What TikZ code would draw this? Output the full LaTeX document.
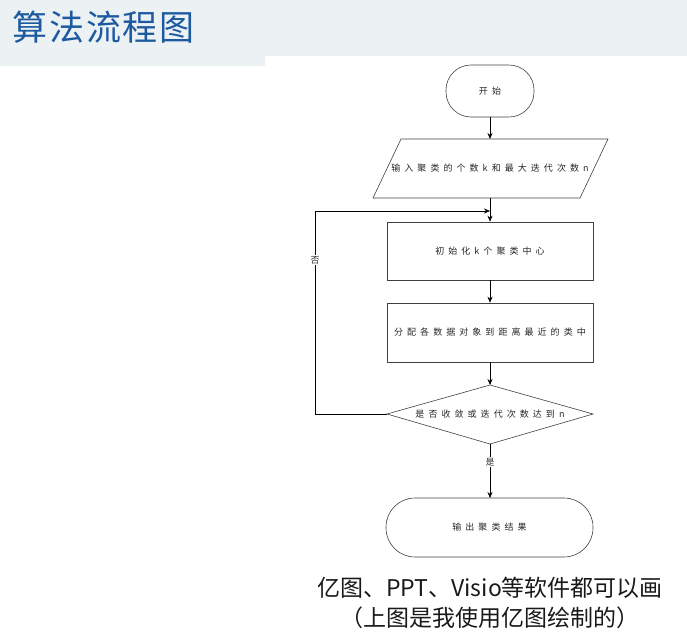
\documentclass[tikz,border=0pt]{standalone}
\usepackage{fontspec}
\setmainfont{Noto Sans CJK SC}
\newfontfamily\cjk{Noto Sans CJK SC}
\usetikzlibrary{shapes.geometric,arrows.meta,positioning}
\definecolor{barbg}{HTML}{ECF2F3}
\definecolor{titleblue}{HTML}{1E5AA0}
\definecolor{flowline}{HTML}{404040}
\tikzset{
  fc/.style={draw=flowline, line width=0.6pt, text=black!85, font=\fontsize{9}{10}\selectfont\addfontfeature{LetterSpace=45}},
  procbox/.style={fc},
  arr/.style={-{Stealth[length=6pt,width=5pt]}, line width=0.6pt, draw=black},
  lbl/.style={font=\fontsize{9}{10}\selectfont, text=black!80, fill=white, inner sep=1pt}
}
\begin{document}
\begin{tikzpicture}[x=1pt,y=-1pt]
\useasboundingbox (0,0) rectangle (687,640);
% title bar
\fill[barbg] (0,0) rectangle (687,56);
\fill[barbg] (0,56) rectangle (265,66);
\node[anchor=west, text=titleblue, font=\fontsize{35}{37}\selectfont\addfontfeature{LetterSpace=5}] (title) at (9,27) {算法流程图};

% flowchart
\draw[fc, rounded corners=25pt] (446,65) rectangle (534,117);
\node[fc, draw=none] (startt) at (490,91) {开始};
\coordinate (startb) at (490,117);

\draw[fc] (401,139) -- (608,139) -- (580,198) -- (373,198) -- cycle;
\node[fc, draw=none] (input) at (490,168.5) {输入聚类的个数k和最大迭代次数n};
\coordinate (inputt) at (490,139);
\coordinate (inputb) at (490,198);

\node[procbox, minimum width=206pt, minimum height=58pt] (init) at (490,251) {初始化k个聚类中心};
\node[procbox, minimum width=206pt, minimum height=59pt] (assign) at (490,332.5) {分配各数据对象到距离最近的类中};

\draw[fc] (490,385) -- (593,414) -- (490,444) -- (387,414) -- cycle;
\node[fc, draw=none] (cond) at (490,414) {是否收敛或迭代次数达到n};
\coordinate (condt) at (490,385);
\coordinate (condb) at (490,444);
\coordinate (condl) at (387,414);

\draw[fc, rounded corners=29pt] (386,498) rectangle (593,557);
\node[fc, draw=none] (output) at (489.5,527.5) {输出聚类结果};
\coordinate (outt) at (490,498);

\coordinate (loopbl) at (315,414);
\coordinate (looptl) at (315,211);
\coordinate (loopend) at (490,211);

% connectors
\draw[arr] (startb) -- (inputt);
\draw[arr] (inputb) -- (init.north);
\draw[arr] (init.south) -- (assign.north);
\draw[arr] (assign.south) -- (condt);
\draw[arr] (condb) -- (outt);
\draw[arr] (condl) -- (loopbl) -- (looptl) -- (loopend);
\node[lbl] (no) at (315,260) {否};
\node[lbl] (yes) at (490,462) {是};

% caption
\node[font=\fontsize{23}{30}\selectfont, text=black!90, align=center] (cap) at (490,603) {亿图、PPT、Visio等软件都可以画\\（上图是我使用亿图绘制的）};
\end{tikzpicture}
\end{document}
